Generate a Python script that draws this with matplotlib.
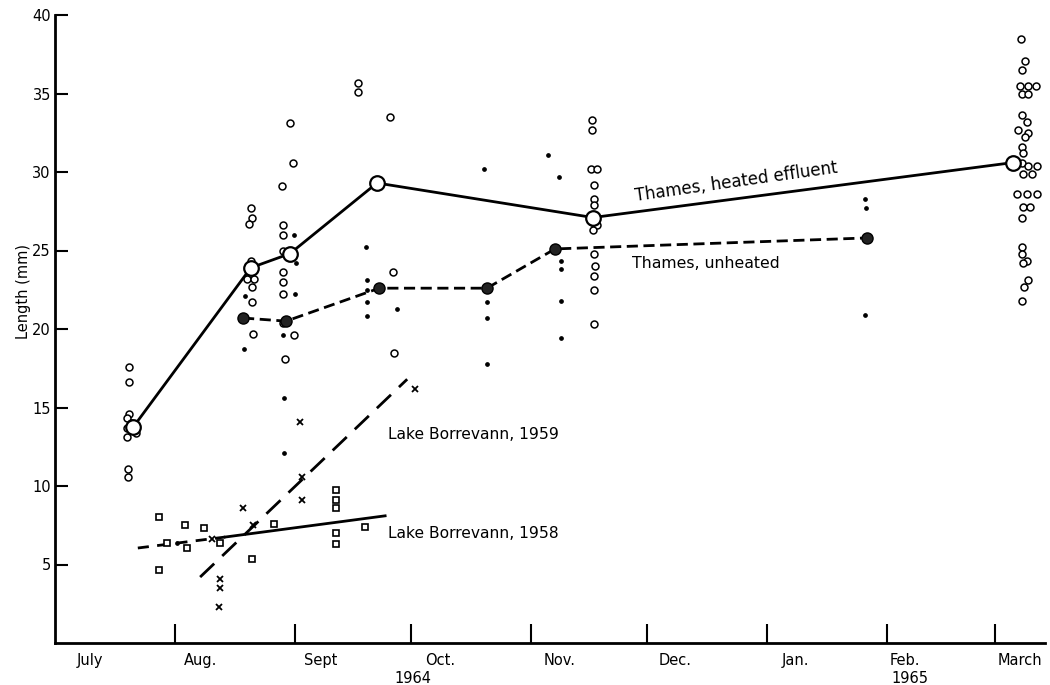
import matplotlib
matplotlib.use("Agg")
import matplotlib.pyplot as plt
from matplotlib.transforms import blended_transform_factory

plt.rcParams['font.family'] = ['DejaVu Sans']

# x = days since 1 July 1964, y = length (mm)
month_bounds = [31, 62, 92, 123, 153, 184, 215, 243]
month_label_pos = [9.0, 37.5, 68.7, 99.5, 130.5, 160.2, 191.2, 219.6, 249.4]
month_labels = ["July", "Aug.", "Sept", "Oct.", "Nov.", "Dec.", "Jan.", "Feb.", "March"]
year_label_pos = [92.5, 221.0]
year_labels = ["1964", "1965"]
y_ticks = [5, 10, 15, 20, 25, 30, 35, 40]

# Thames, heated effluent: means
heated_mean_day = [20.2, 50.6, 60.7, 83.2, 139.0, 247.5]
heated_mean_len = [13.75, 23.9, 24.8, 29.3, 27.1, 30.6]

# Thames, heated effluent: individual specimens
heated_day = [19.1, 19.1, 19.1, 18.6, 18.6, 18.6, 19.6, 20.9, 18.9, 18.9,
              50.6, 50.9, 50.1, 50.6, 49.6, 51.4, 50.9, 50.9, 51.2,
              60.7, 61.5, 58.7, 58.9, 58.9, 58.9, 58.9, 58.9, 58.9, 58.9, 61.8, 59.4,
              78.3, 78.3, 86.6, 87.3, 87.6,
              138.5, 140.1, 138.8, 138.8, 139.3, 139.3, 139.3, 138.8, 140.1, 139.0,
              139.3, 139.5, 139.3, 139.3, 139.3,
              249.6, 250.6, 249.9, 249.4, 251.4, 253.5, 249.9, 251.4, 249.9, 251.2,
              248.8, 251.4, 250.6, 249.9, 250.1, 249.9, 251.4, 253.7, 250.1, 252.5,
              248.6, 251.2, 253.7, 250.1, 251.9, 249.9, 249.9, 249.9, 251.2, 250.1,
              251.4, 250.4, 249.9]
heated_len = [17.6, 16.6, 14.6, 14.3, 13.7, 13.1, 14.0, 13.4, 11.1, 10.6,
              27.7, 27.1, 26.7, 24.3, 23.2, 23.2, 22.7, 21.7, 19.7,
              33.1, 30.6, 29.1, 26.6, 26.0, 25.0, 23.6, 23.0, 22.2, 20.4, 19.6, 18.1,
              35.7, 35.1, 33.5, 23.6, 18.5,
              30.2, 30.2, 33.3, 32.7, 29.2, 28.3, 27.9, 26.8, 26.6, 26.3,
              24.8, 24.0, 23.4, 22.5, 20.3,
              38.5, 37.1, 36.5, 35.5, 35.5, 35.5, 35.0, 35.0, 33.6, 33.2,
              32.7, 32.5, 32.2, 31.6, 31.2, 30.6, 30.4, 30.4, 29.9, 29.9,
              28.6, 28.6, 28.6, 27.8, 27.8, 27.1, 25.2, 24.8, 24.3, 24.2,
              23.1, 22.7, 21.8]

# Thames, unheated: means
unheated_mean_day = [48.6, 59.7, 83.8, 111.6, 129.2, 209.8]
unheated_mean_len = [20.7, 20.5, 22.6, 22.6, 25.1, 25.8]

# Thames, unheated: individual specimens
unheated_day = [49.1, 48.8,
                61.8, 62.3, 62.0, 58.9, 59.2, 59.2,
                80.4, 80.6, 80.6, 80.6, 80.6, 88.4,
                110.9, 111.6, 111.6, 111.6,
                127.4, 130.2, 130.7, 130.7, 130.7, 130.7,
                209.3, 209.6, 209.3,
                31.5]
unheated_len = [22.1, 18.7,
                26.0, 24.2, 22.2, 19.6, 15.6, 12.1,
                25.2, 23.1, 22.5, 21.7, 20.8, 21.3,
                30.2, 21.7, 20.7, 17.8,
                31.1, 29.7, 24.3, 23.8, 21.8, 19.4,
                28.3, 27.7, 20.9,
                6.4]

# Lake Borrevann 1959 (x)
lake59_day = [63.3, 63.8, 63.8, 48.6, 51.2, 40.6, 42.6, 42.6, 42.4, 93.0]
lake59_len = [14.1, 10.6, 9.1, 8.6, 7.5, 6.6, 4.1, 3.5, 2.3, 16.2]
lake59_line_day = [37.5, 91.0]
lake59_line_len = [4.2, 16.8]

# Lake Borrevann 1958 (squares)
lake58_day = [26.9, 33.6, 38.5, 28.9, 34.1, 42.6, 26.9, 56.6, 50.9,
              72.6, 72.6, 72.6, 72.6, 72.6, 80.1]
lake58_len = [8.0, 7.5, 7.3, 6.4, 6.05, 6.35, 4.65, 7.6, 5.35,
              9.75, 9.1, 8.6, 7.0, 6.3, 7.4]
lake58_line_day = [21.4, 44.0, 85.3]
lake58_line_len = [6.05, 6.75, 8.1]

fig = plt.figure(figsize=(10.5, 6.85), dpi=100)
ax = fig.add_axes([55 / 1050, 42 / 685, 990 / 1050, 628 / 685])
ax.set_xlim(0, 255.8)
ax.set_ylim(0, 40)

for s in ["top", "right"]:
    ax.spines[s].set_visible(False)
ax.spines["left"].set_linewidth(2)
ax.spines["bottom"].set_linewidth(2)

# lines
ax.plot(heated_mean_day, heated_mean_len, color="black", lw=2, zorder=2)
ax.plot(unheated_mean_day, unheated_mean_len, color="black", lw=2,
        dashes=(4, 2), zorder=2)
ax.plot(lake59_line_day, lake59_line_len, color="black", lw=2,
        dashes=(7, 4), zorder=2)
ax.plot(lake58_line_day[:2], lake58_line_len[:2], color="black", lw=2,
        dashes=(4, 3), zorder=2)
ax.plot(lake58_line_day[1:], lake58_line_len[1:], color="black", lw=2, zorder=2)

# individual points
ax.plot(heated_day, heated_len, ls="none", marker="o", ms=5, mfc="white",
        mec="black", mew=1.1, zorder=3)
ax.plot(unheated_day, unheated_len, ls="none", marker="o", ms=2.4,
        color="black", zorder=3)
ax.plot(lake59_day, lake59_len, ls="none", marker="x", ms=5, mew=1.3,
        color="black", zorder=3)
ax.plot(lake58_day, lake58_len, ls="none", marker="s", ms=4.2, mfc="white",
        mec="black", mew=1.2, zorder=3)

# means
ax.plot(heated_mean_day, heated_mean_len, ls="none", marker="o", ms=10.5,
        mfc="white", mec="black", mew=1.6, zorder=4)
ax.plot(unheated_mean_day, unheated_mean_len, ls="none", marker="o", ms=8,
        mfc="#222222", mec="black", mew=1.0, zorder=4)

# ticks
ax.set_yticks(y_ticks)
ax.tick_params(axis="y", direction="in", length=9, width=1.5, pad=3,
               labelsize=10.5)
ax.set_xticks(month_bounds)
ax.set_xticklabels([])
ax.tick_params(axis="x", which="major", direction="in", length=14, width=1.5)
ax.set_xticks(month_label_pos, minor=True)
ax.set_xticklabels(month_labels, minor=True)
ax.tick_params(axis="x", which="minor", length=0, pad=7, labelsize=10.5)

trans = blended_transform_factory(ax.transData, ax.transAxes)
for xp, lab in zip(year_label_pos, year_labels):
    ax.text(xp, -0.056, lab, transform=trans, ha="center", va="center",
            fontsize=10.5)

ax.set_ylabel("Length (mm)", fontsize=10.5)
ax.yaxis.set_label_coords(-0.024, 0.56)

# series labels
ax.text(176.0, 29.4, "Thames, heated effluent", rotation=8, ha="center",
        va="center", fontsize=12)
ax.text(149.0, 24.2, "Thames, unheated", ha="left", va="center",
        fontsize=11.3)
ax.text(86.0, 13.25, "Lake Borrevann, 1959", ha="left", va="center",
        fontsize=11.2)
ax.text(86.0, 7.0, "Lake Borrevann, 1958", ha="left", va="center",
        fontsize=11.2)

fig.savefig("out.png", dpi=100)
